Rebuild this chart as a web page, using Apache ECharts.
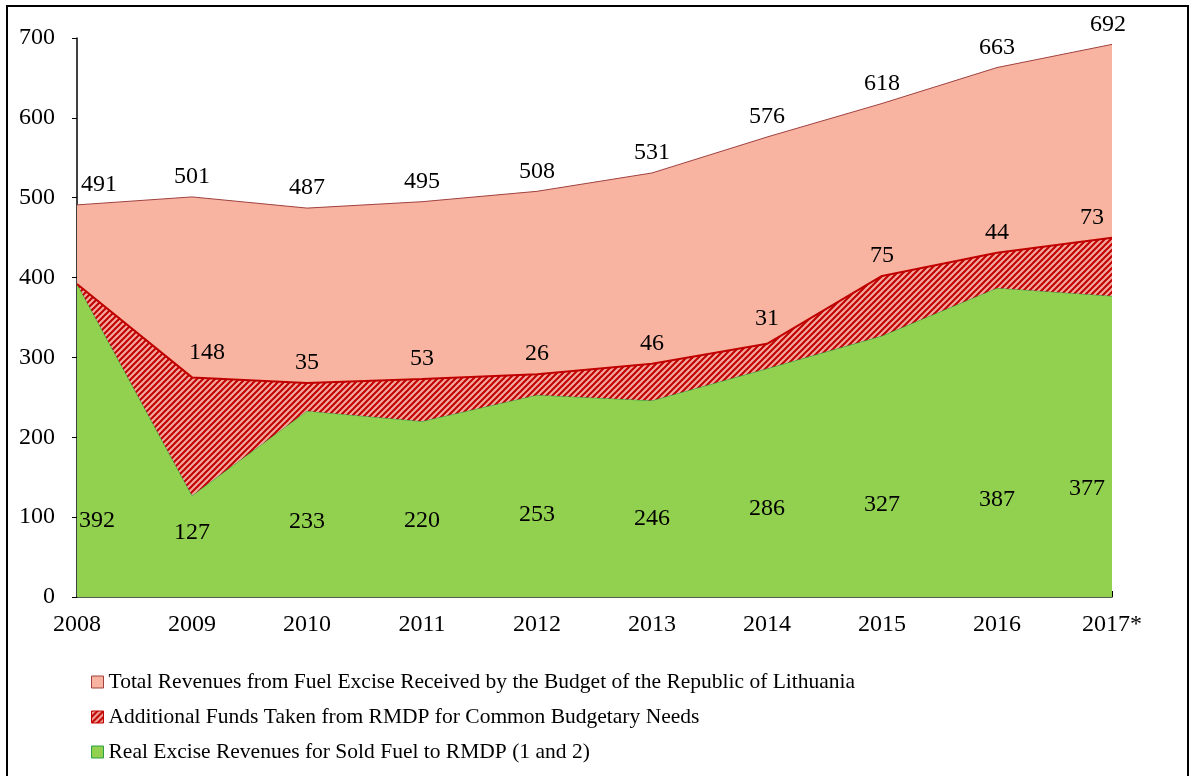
<!DOCTYPE html>
<html><head><meta charset="utf-8">
<script src="https://cdn.jsdelivr.net/npm/echarts@6/dist/echarts.min.js"></script>
<style>html,body{margin:0;padding:0;background:#fff}#c{width:1192px;height:776px}</style>
</head><body><div id="c"></div>
<script>
// ---- data ----
const years = ['2008','2009','2010','2011','2012','2013','2014','2015','2016','2017*'];
const totalRevenue = [491,501,487,495,508,531,576,618,663,692];
const additionalFunds = [0,148,35,53,26,46,31,75,44,73];
const realRevenue = [392,127,233,220,253,246,286,327,387,377];
const yTicks = [0,100,200,300,400,500,600,700];
const seriesNames = [
  'Total Revenues from Fuel Excise Received by the Budget of the Republic of Lithuania',
  'Additional Funds Taken from RMDP for Common Budgetary Needs',
  'Real Excise Revenues for Sold Fuel to RMDP (1 and 2)'
];

// ---- layout / style ----
const GRID = {left:77, right:80, top:38, bottom:179};
const plotH = 776 - GRID.top - GRID.bottom;
const pxPerUnit = plotH / 700;
const realLabelLevel = [95,81,94,96,103,98,110,116,122,135]; // label placement (value space)
const FONT = '"Liberation Serif","DejaVu Serif",serif';
const FS = 24;

function hatch(){
  const c = document.createElement('canvas');
  c.width = 6; c.height = 6;
  const g = c.getContext('2d');
  g.fillStyle = '#F3A79C'; g.fillRect(0,0,6,6);
  g.strokeStyle = '#C00000'; g.lineWidth = 2;
  g.beginPath();
  g.moveTo(-1,7); g.lineTo(7,-1);
  g.moveTo(-4,4); g.lineTo(4,-4);
  g.moveTo(2,10); g.lineTo(10,2);
  g.stroke();
  return c;
}
const hatchImg = hatch();

function edgeDx(i, first, last){ return i===0 ? first : (i===years.length-1 ? last : 0); }

const chart = echarts.init(document.getElementById('c'));
chart.setOption({
  animation:false,
  textStyle:{fontFamily:FONT},
  grid:GRID,
  graphic:[{type:'rect', shape:{x:7,y:6,width:1181,height:790}, style:{fill:'none', stroke:'#000', lineWidth:2}, z:-1}],
  legend:{
    orient:'vertical', left:86, top:666, itemWidth:12, itemHeight:12, itemGap:13,
    textStyle:{fontFamily:FONT, fontSize:21.5, color:'#000'},
    data:[
      {name:seriesNames[0], icon:'rect', itemStyle:{color:'#F8B4A0', borderColor:'#A0403F', borderWidth:1}},
      {name:seriesNames[1], icon:'rect', itemStyle:{color:{image:hatchImg, repeat:'repeat'}, borderColor:'#C00000', borderWidth:1}},
      {name:seriesNames[2], icon:'rect', itemStyle:{color:'#92D050', borderColor:'#2E9E4A', borderWidth:1}}
    ]
  },
  xAxis:{
    type:'category', data:years, boundaryGap:false,
    axisLine:{lineStyle:{color:'#1a2a1a', width:1.5}},
    axisTick:{inside:true, length:6, lineStyle:{color:'#000'}},
    axisLabel:{color:'#000', fontSize:FS, fontFamily:FONT, margin:16, interval:0}
  },
  yAxis:{
    type:'value', min:0, max:700, interval:100,
    axisLine:{show:true, lineStyle:{color:'#000', width:1.5}},
    axisTick:{show:true, length:5, lineStyle:{color:'#000'}},
    splitLine:{show:false},
    axisLabel:{color:'#000', fontSize:FS, fontFamily:FONT, margin:22,
      formatter:v=> yTicks.includes(v) ? String(v) : ''}
  },
  series:[
    {
      name:seriesNames[0], type:'line', data:totalRevenue.map((v,i)=>({value:v,
        label:{offset:[edgeDx(i,22,-4),0]}})),
      symbol:'circle', symbolSize:0, showSymbol:true,
      lineStyle:{color:'#A0403F', width:1},
      itemStyle:{color:'#F8B4A0'},
      areaStyle:{color:'#F8B4A0', opacity:1},
      label:{show:true, position:'top', distance:8, color:'#000', fontSize:FS, fontFamily:FONT},
      z:1
    },
    {
      name:seriesNames[2], type:'line', stack:'s', data:realRevenue.map((v,i)=>({value:v,
        label:{offset:[edgeDx(i,20,-25), (v-realLabelLevel[i])*pxPerUnit]}})),
      symbol:'circle', symbolSize:0, showSymbol:true,
      lineStyle:{color:'#2E9E4A', width:1},
      itemStyle:{color:'#92D050'},
      areaStyle:{color:'#92D050', opacity:1},
      label:{show:true, position:'inside', color:'#000', fontSize:FS, fontFamily:FONT},
      z:2
    },
    {
      name:seriesNames[1], type:'line', stack:'s', data:additionalFunds.map((v,i)=>({value:v,
        label:{offset:[i===1?15:edgeDx(i,0,-20), (i===1||i===6)?-5:0]}})),
      symbol:'circle', symbolSize:0, showSymbol:true,
      lineStyle:{color:'#C00000', width:2},
      itemStyle:{color:'#C00000'},
      areaStyle:{color:{image:hatchImg, repeat:'repeat'}, opacity:1},
      label:{show:true, position:'top', distance:8, color:'#000', fontSize:FS, fontFamily:FONT,
        formatter:p=> p.value ? String(p.value) : ''},
      z:3
    }
  ]
});
</script></body></html>
